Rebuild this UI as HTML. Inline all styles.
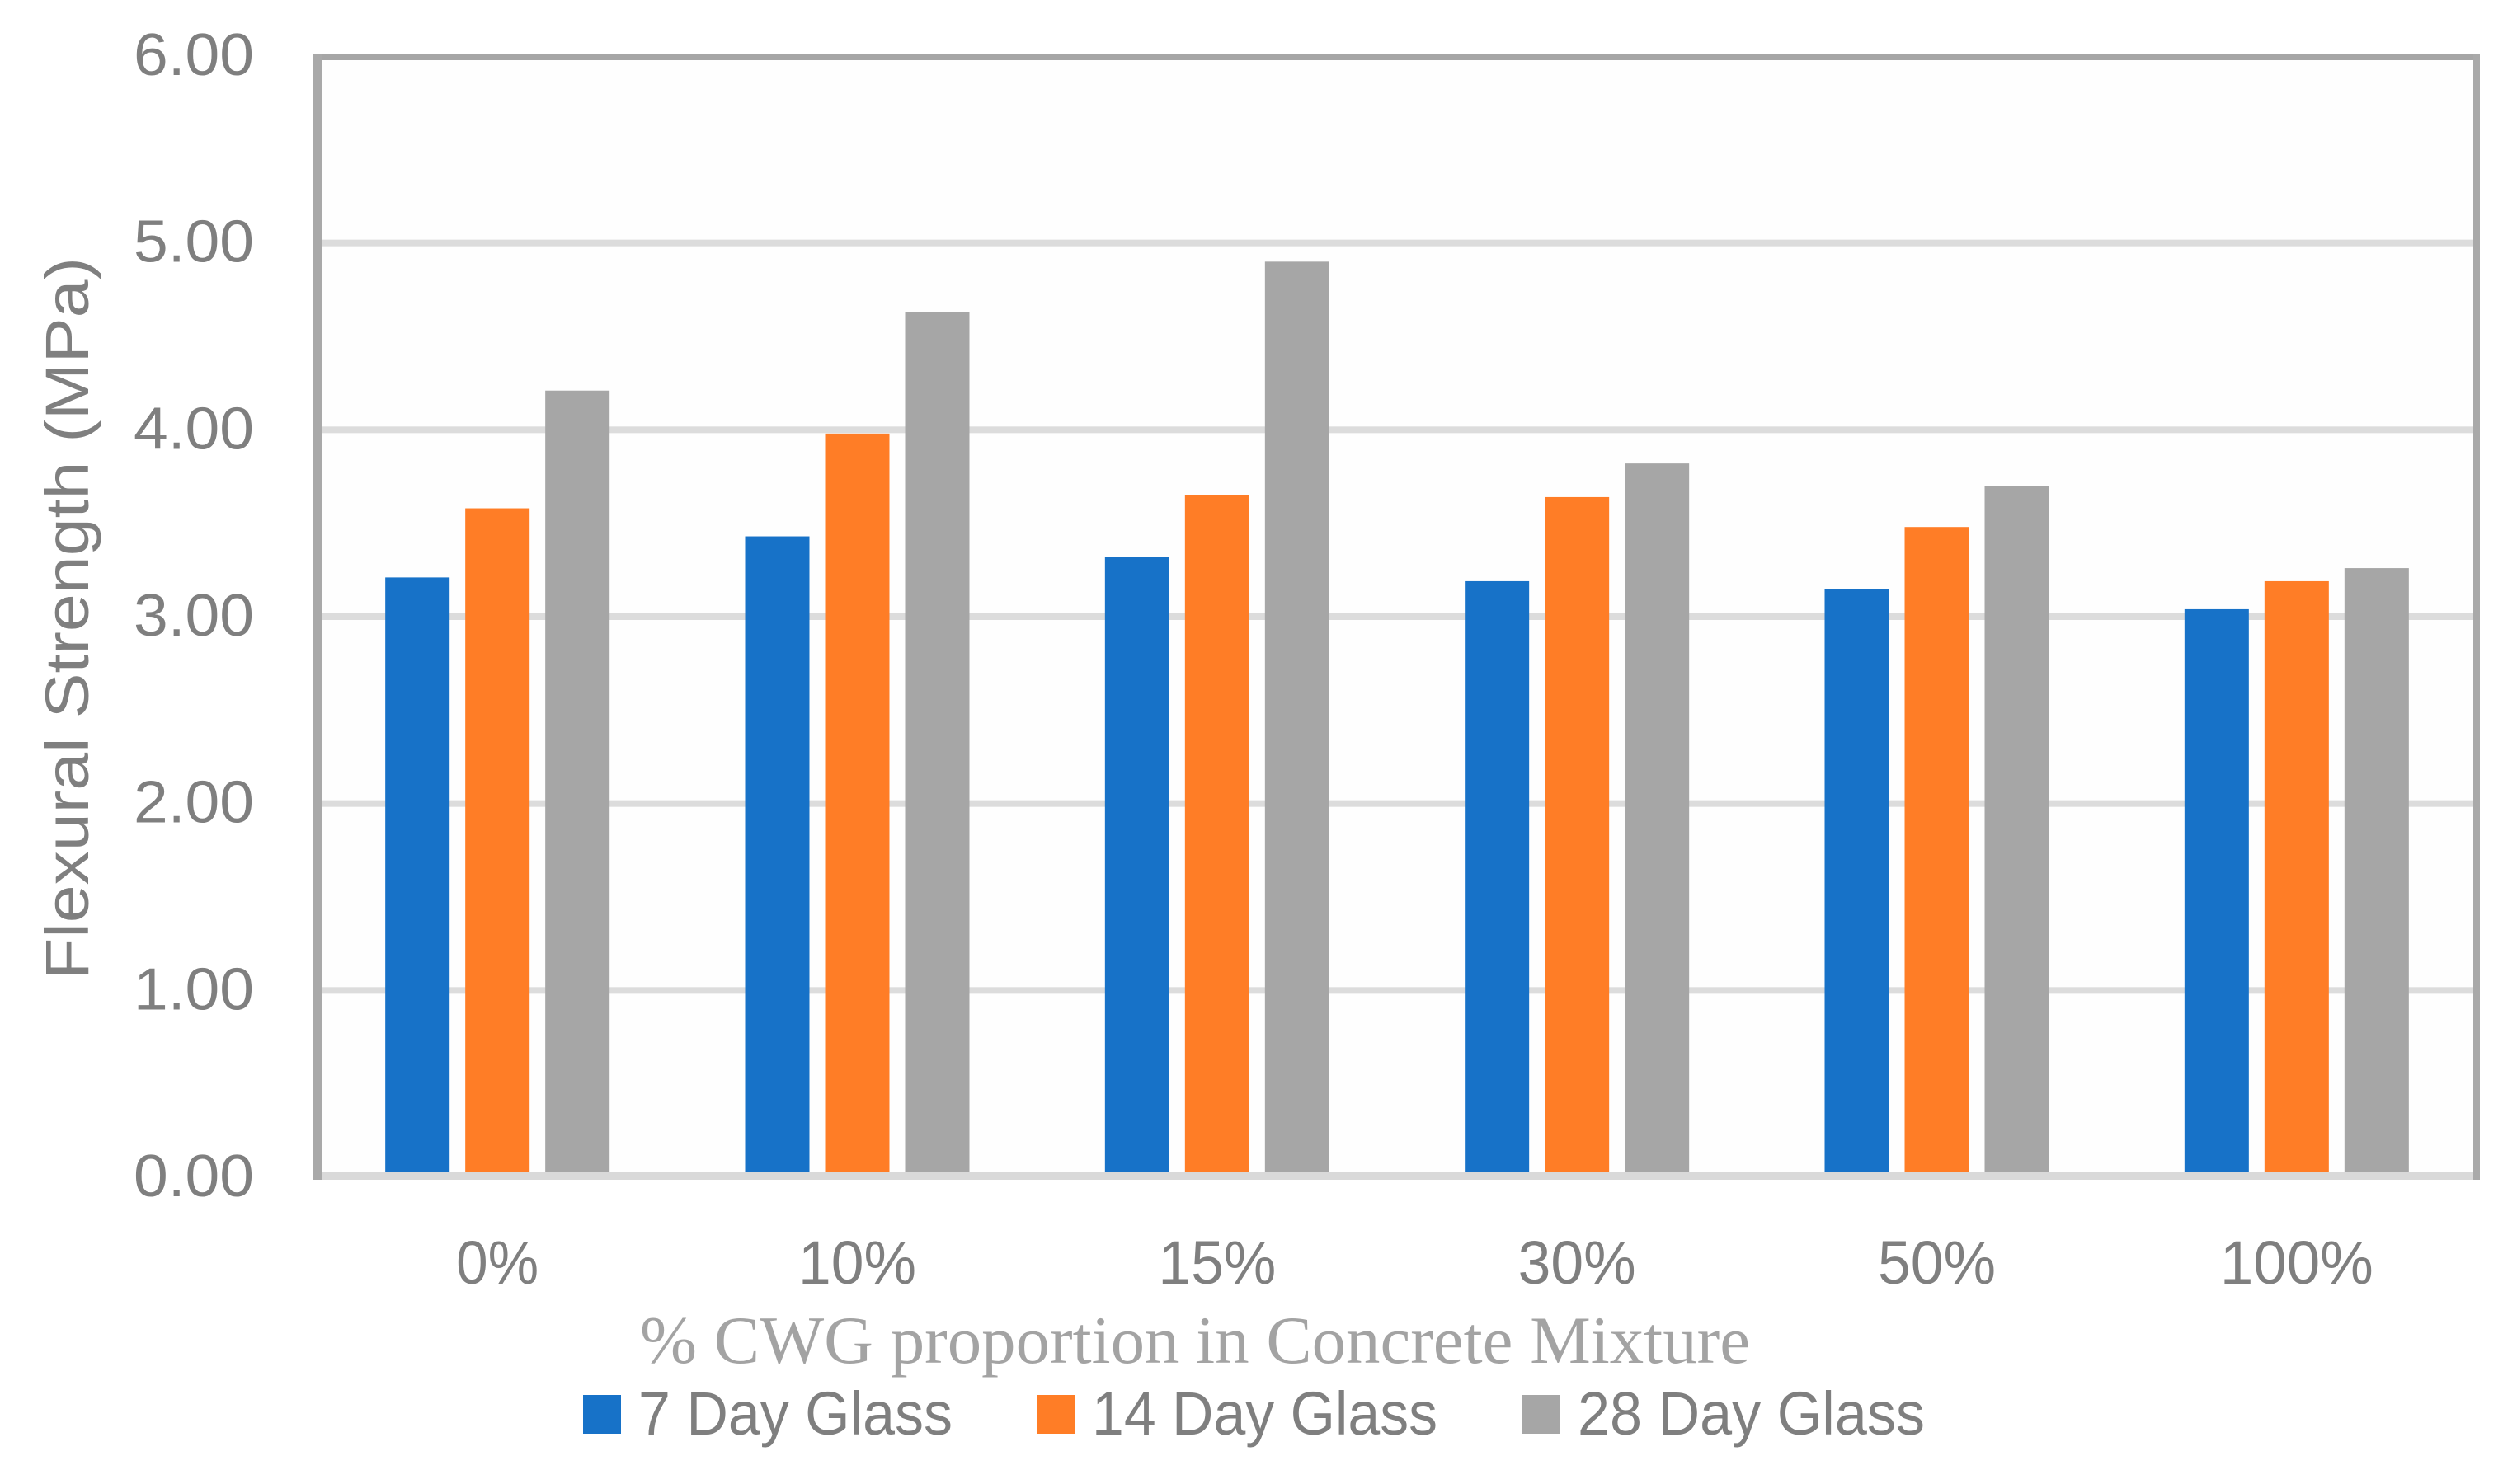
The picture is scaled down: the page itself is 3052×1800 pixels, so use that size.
<!DOCTYPE html>
<html>
<head>
<meta charset="utf-8">
<title>Flexural Strength Chart</title>
<style>
html,body{margin:0;padding:0;background:#fff;}
svg{display:block;}
text{font-family:"Liberation Sans",sans-serif;fill:#7f7f7f;}
</style>
</head>
<body>
<svg id="chart" xmlns="http://www.w3.org/2000/svg" width="3052" height="1800" viewBox="0 0 3052 1800">
  <rect x="0" y="0" width="3052" height="1800" fill="#ffffff"/>
  <rect x="386" y="69" width="2617" height="1361" fill="#fefefe"/>
  <g id="grid"></g>
  <g id="bars"></g>
  <rect x="380" y="1422" width="2627" height="9" fill="#d9d9d9"/>
  <rect x="380" y="65" width="2627" height="8" fill="#a6a6a6"/>
  <rect x="380" y="65" width="10" height="1366" fill="#a9a9a9"/>
  <rect x="2999" y="65" width="8" height="1366" fill="#a9a9a9"/>
  <g id="y-ticks"></g>
  <g id="x-ticks"></g>
  <text transform="translate(107,1188) rotate(-90)" font-size="74" textLength="876" lengthAdjust="spacingAndGlyphs">Flexural Strength (MPa)</text>
  <text x="776" y="1653" font-size="82" textLength="1346" lengthAdjust="spacingAndGlyphs" style="font-family:'Liberation Serif',serif;fill:#a3a3a3;">% CWG proportion in Concrete Mixture</text>
  <g>
    <rect x="707" y="1692" width="46" height="47" fill="#1772c8"/>
    <text x="774" y="1740" font-size="74" textLength="381" lengthAdjust="spacingAndGlyphs">7 Day Glass</text>
    <rect x="1257" y="1692" width="46" height="47" fill="#ff7d26"/>
    <text x="1324" y="1740" font-size="74" textLength="419" lengthAdjust="spacingAndGlyphs">14 Day Glass</text>
    <rect x="1846" y="1692" width="46" height="47" fill="#a6a6a6"/>
    <text x="1913" y="1740" font-size="74" textLength="421" lengthAdjust="spacingAndGlyphs">28 Day Glass</text>
  </g>
</svg>
<script>
const categories = ["0%", "10%", "15%", "30%", "50%", "100%"];
const day7Values = [3.21, 3.43, 3.32, 3.19, 3.15, 3.04];
const day14Values = [3.58, 3.98, 3.65, 3.64, 3.48, 3.19];
const day28Values = [4.21, 4.63, 4.90, 3.82, 3.70, 3.26];
const yTickValues = [0, 1, 2, 3, 4, 5, 6];

const SVG_NS = "http://www.w3.org/2000/svg";
const plotLeft = 385, plotRight = 3003, yZero = 1428, yTop = 68, yMax = 6;
const barWidth = 78, barStep = 97;

function yScale(v) { return yZero - (v / yMax) * (yZero - yTop); }
function xCenter(i) { return plotLeft + (plotRight - plotLeft) * (i + 0.5) / categories.length; }
function make(tag, attrs) {
  const el = document.createElementNS(SVG_NS, tag);
  for (const k in attrs) el.setAttribute(k, attrs[k]);
  return el;
}

const gridGroup = document.getElementById("grid");
const yTickGroup = document.getElementById("y-ticks");
yTickValues.forEach(function (v) {
  if (v > 0 && v < yMax) {
    const line = make("rect", { x: 386, y: yScale(v) - 4, width: plotRight - 386, height: 8, fill: "#dcdcdc" });
    
    
    gridGroup.appendChild(line);
  }
  const label = make("text", { x: 308, y: yScale(v) + 23, "font-size": 72, "text-anchor": "end", textLength: 146, lengthAdjust: "spacingAndGlyphs" });
  
  
  label.textContent = v.toFixed(2);
  yTickGroup.appendChild(label);
});

const barsGroup = document.getElementById("bars");
function drawSeries(values, offset, color, seriesName) {
  values.forEach(function (v, i) {
    const top = yScale(v);
    const bar = make("rect", { x: xCenter(i) + offset * barStep - barWidth / 2, y: top, width: barWidth, height: yZero - top, fill: color });
    
    
    barsGroup.appendChild(bar);
  });
}
drawSeries(day7Values, -1, "#1772c8", "7-day");
drawSeries(day14Values, 0, "#ff7d26", "14-day");
drawSeries(day28Values, 1, "#a6a6a6", "28-day");

const xTickGroup = document.getElementById("x-ticks");
categories.forEach(function (c, i) {
  const label = make("text", { x: xCenter(i), y: 1557, "font-size": 74, "text-anchor": "middle", textLength: 14 + 43 * c.length, lengthAdjust: "spacingAndGlyphs" });
  
  
  label.textContent = c;
  xTickGroup.appendChild(label);
});
</script>
</body>
</html>
